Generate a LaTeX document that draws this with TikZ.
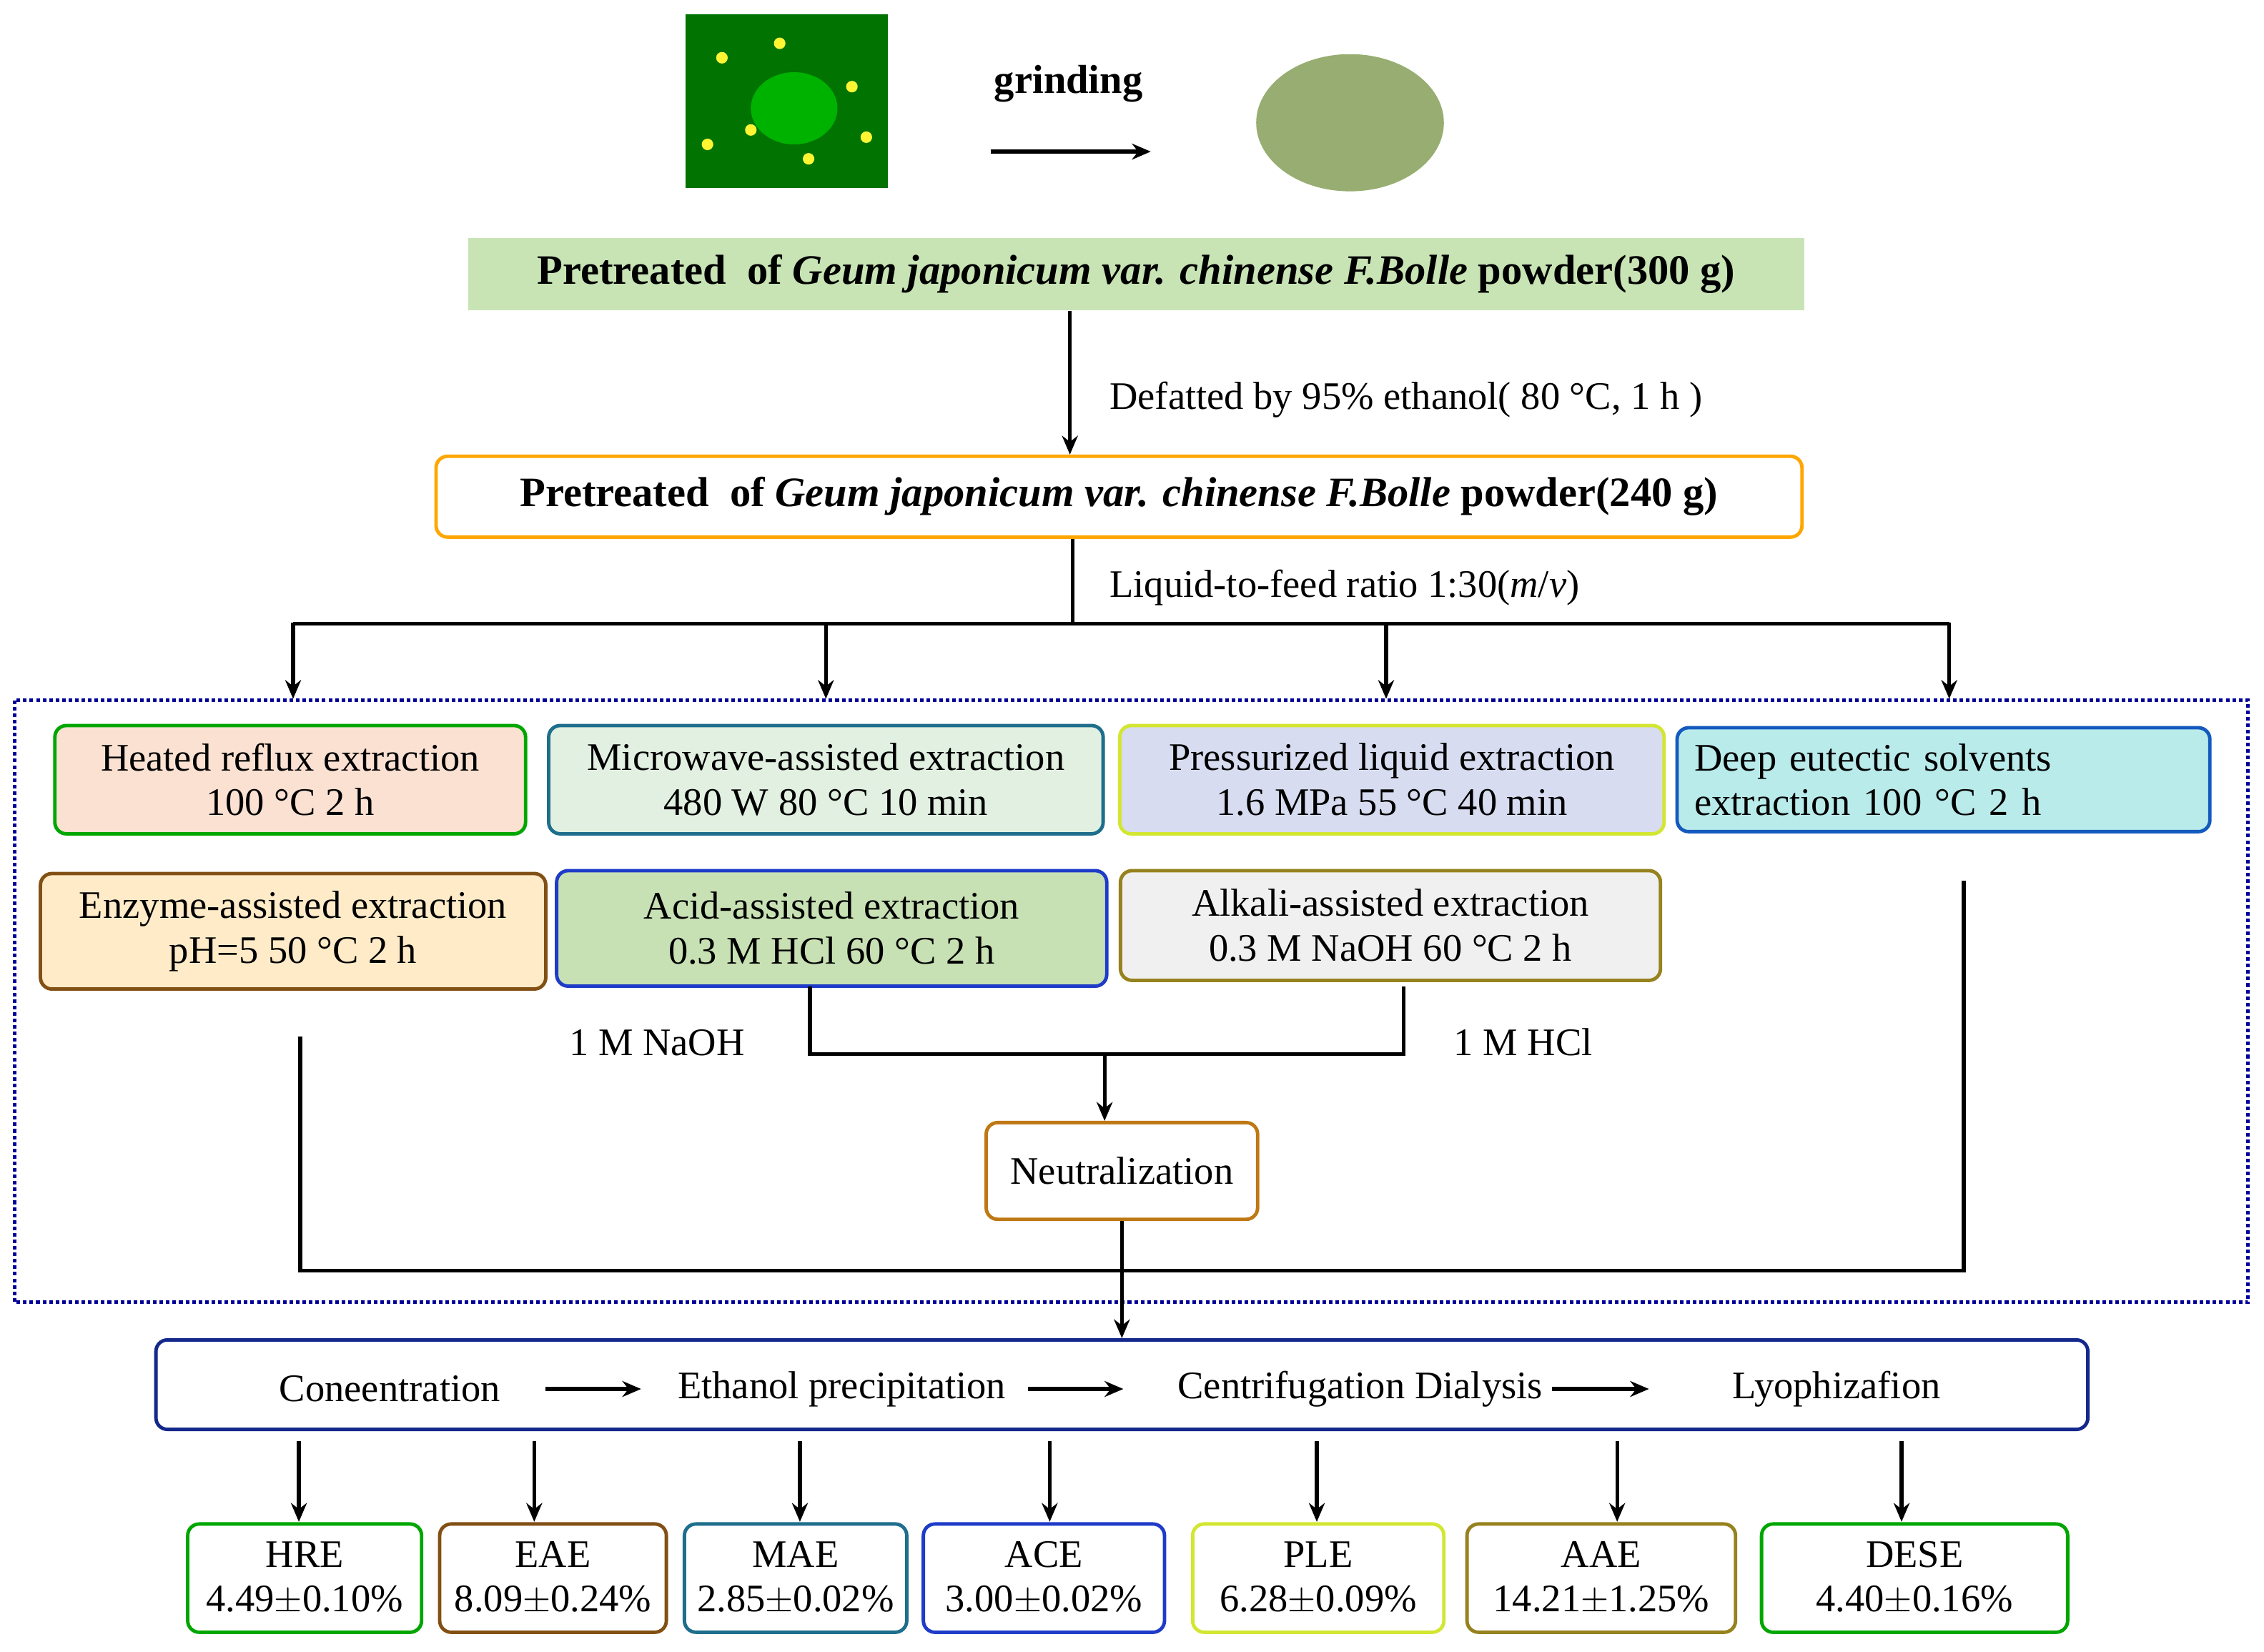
\documentclass[tikz,border=0pt]{standalone}
\usepackage{fontspec}
\setmainfont{Liberation Serif}
\usetikzlibrary{arrows.meta,shapes.geometric}
\begin{document}
\begin{tikzpicture}[x=1pt,y=-1pt,
 t/.style={font=\fontsize{27}{31}\selectfont,align=center},
 box/.style={draw,rounded corners=8pt,line width=2.4pt,t},
 arr/.style={-{Stealth[length=13pt,width=11pt]},line width=2.6pt},
 ln/.style={line width=2.6pt}]
\useasboundingbox (0,0) rectangle (1568,1144);
% images
\node[fill=green!45!black,minimum width=140,minimum height=120] (plant) at (545,70) {};
\foreach \x/\y in {500/40,520/90,560/110,590/60,490/100,600/95,540/30}{\fill[yellow!80!white] (\x,\y) circle (4);}
\fill[green!70!black] (550,75) ellipse (30 and 25);
\node[fill=olive!55!green!60!gray,ellipse,minimum width=130,minimum height=95,opacity=.8] (powder) at (935,85) {};
\node[font=\fontsize{28}{31}\selectfont\bfseries] (grind) at (740,58) {grinding};
\coordinate (g1) at (686,105); \coordinate (g2) at (797,105);
\draw[arr] (g1) -- (g2);
% pretreated boxes
\node[t,fill={rgb,255:red,200;green,228;blue,180},minimum width=925,minimum height=50,font=\fontsize{29}{33}\selectfont\bfseries] (p1) at (787,190) {Pretreated\ \ of \textit{Geum japonicum var. chinense F.Bolle} powder(300 g)};
\node[box,draw=orange!70!yellow,minimum width=946,minimum height=56,font=\fontsize{29}{33}\selectfont\bfseries] (p2) at (775,344) {Pretreated\ \ of \textit{Geum japonicum var. chinense F.Bolle} powder(240 g)};
\draw[arr] (p1.south -| 741,0) -- (p2.north -| 741,0);
\node[t,anchor=west] (lab1) at (765,277) {Defatted by 95\% ethanol( 80 \textdegree C, 1 h )};
\coordinate (s) at (743,432);
\draw[ln] (p2.south -| 743,0) -- (s);
\node[t,anchor=west] (lab2) at (765,407) {Liquid-to-feed ratio 1:30(\textit{m}/\textit{v})};
\draw[ln] (203,432) -- (1350,432);
\foreach \x in {203,572,960,1350}{\draw[arr] (\x,431) -- (\x,484);}
% dotted region
\draw[blue!60!black,dotted,line width=2.5pt] (10,485) rectangle (1557,902);
% row 1
\node[box,draw=green!65!black,fill={rgb,255:red,250;green,225;blue,210},minimum width=326,minimum height=75] (hre) at (201,540) {Heated reflux extraction\\100 \textdegree C 2 h};
\node[box,draw={rgb,255:red,30;green,110;blue,140},fill={rgb,255:red,225;green,240;blue,225},minimum width=384,minimum height=75] (mae) at (572,540) {Microwave-assisted extraction\\480 W 80 \textdegree C 10 min};
\node[box,draw={rgb,255:red,210;green,230;blue,50},fill={rgb,255:red,215;green,220;blue,240},minimum width=377,minimum height=75] (ple) at (964,540) {Pressurized liquid extraction\\1.6 MPa 55 \textdegree C 40 min};
\node[box,draw={rgb,255:red,20;green,90;blue,190},fill={rgb,255:red,185;green,235;blue,235},minimum width=369,minimum height=72,align=left,text width=345] (dese) at (1346,540) {Deep eutectic solvents\\extraction 100 \textdegree C 2 h};
% row 2
\node[box,draw={rgb,255:red,130;green,80;blue,20},fill={rgb,255:red,255;green,235;blue,200},minimum width=350,minimum height=80] (eae) at (203,645) {Enzyme-assisted extraction\\pH=5 50 \textdegree C 2 h};
\node[box,draw={rgb,255:red,30;green,60;blue,200},fill={rgb,255:red,200;green,225;blue,180},minimum width=381,minimum height=80] (ace) at (576,643) {Acid-assisted extraction\\0.3 M HCl 60 \textdegree C 2 h};
\node[box,draw={rgb,255:red,150;green,130;blue,30},fill={rgb,255:red,240;green,240;blue,240},minimum width=374,minimum height=76] (aae) at (963,641) {Alkali-assisted extraction\\0.3 M NaOH 60 \textdegree C 2 h};
\node[box,draw={rgb,255:red,190;green,120;blue,20},minimum width=188,minimum height=67] (neu) at (777,811) {Neutralization};
\draw[ln] (561,683) -- (561,730) -- (972,730) -- (972,683);
\draw[arr] (765,729) -- (neu.north -| 765,0);
\node[t] (naoh) at (455,722) {1 M NaOH};
\node[t] (hcl) at (1055,722) {1 M HCl};
\draw[ln] (208,718) -- (208,880) -- (1360,880) -- (1360,610);
% process
\node[box,draw={rgb,255:red,20;green,40;blue,140},minimum width=1338,minimum height=62] (proc) at (777,959) {};
\draw[arr] (neu.south -| 777,0) -- (proc.north -| 777,0);
\node[t] (c1) at (270,962) {Coneentration};
\node[t] (c2) at (583,962) {Ethanol precipitation};
\node[t] (c3) at (942,962) {Centrifugation Dialysis};
\node[t] (c4) at (1272,962) {Lyophizafion};
\draw[arr] (378,962) -- (444,962);
\draw[arr] (712,962) -- (778,962);
\draw[arr] (1075,962) -- (1142,962);
% results
\foreach \n/\x/\w/\c/\l/\v in {
 r1/211/162/{green!65!black}/HRE/{4.49$\pm$0.10\%},
 r2/383/157/{rgb,255:red,130;green,80;blue,20}/EAE/{8.09$\pm$0.24\%},
 r3/551/154/{rgb,255:red,30;green,110;blue,140}/MAE/{2.85$\pm$0.02\%},
 r4/723/167/{rgb,255:red,30;green,60;blue,200}/ACE/{3.00$\pm$0.02\%},
 r5/913/174/{rgb,255:red,210;green,230;blue,50}/PLE/{6.28$\pm$0.09\%},
 r6/1109/186/{rgb,255:red,150;green,130;blue,30}/AAE/{14.21$\pm$1.25\%},
 r7/1326/212/{green!65!black}/DESE/{4.40$\pm$0.16\%}}{
 \node[box,draw=\c,minimum width=\w,minimum height=75,inner sep=1pt] (\n) at (\x,1093) {\l\\\v};}
\foreach \x/\n in {207/r1,370/r2,554/r3,727/r4,912/r5,1120/r6,1317/r7}{\draw[arr] (\x,998) -- (\x,1054);}
\end{tikzpicture}
\end{document}
